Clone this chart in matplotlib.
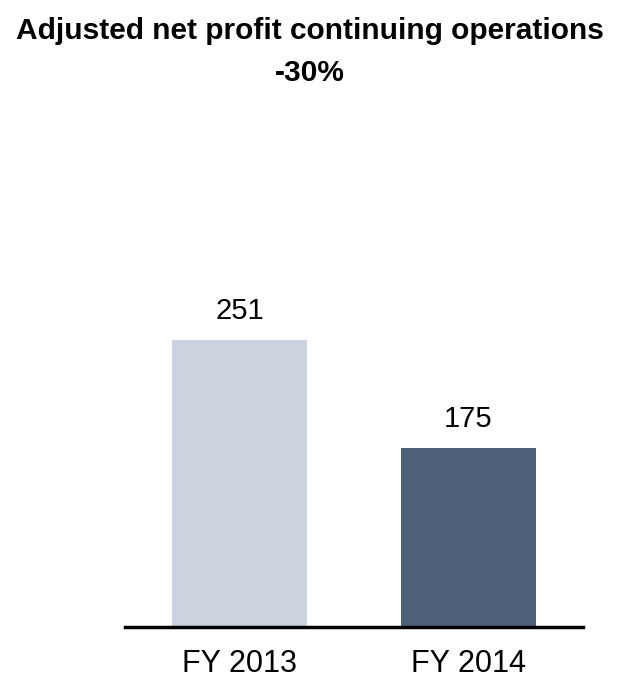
import matplotlib
matplotlib.use("Agg")
import matplotlib.pyplot as plt

categories = ["FY 2013", "FY 2014"]
values = [251, 175]
labels = ["251", "175"]
colors = ["#CBD4DE", "#4D6279"]
title_line1 = "Adjusted net profit continuing operations"
title_line2 = "-30%"

plt.rcParams['font.family'] = ['Liberation Sans', 'DejaVu Sans']

fig = plt.figure(figsize=(6.19, 6.78), dpi=100)
ax = fig.add_axes([0.2019, 0.0752, 0.7399, 0.7331])
x = list(range(len(categories)))
bars = ax.bar(x, values, width=0.59, color=colors, zorder=2)
ax.set_xlim(-0.5, 1.5)
ax.set_ylim(49, 398.7)

for xi, v, lab in zip(x, values, labels):
    ax.annotate(lab, (xi, v), xytext=(0, 20.5), textcoords="offset points",
                ha="center", va="center", fontsize=21, color="black")

for s in ["top", "right", "left"]:
    ax.spines[s].set_visible(False)
ax.spines["bottom"].set_linewidth(2.5)
ax.spines["bottom"].set_color("black")
ax.set_yticks([])
ax.set_xticks(x)
ax.set_xticklabels(categories, fontsize=22)
ax.tick_params(axis="x", length=0, pad=16)

fig.text(0.5, 1 - 31/678, title_line1, ha="center", va="center",
         fontsize=21.5, fontweight="bold")
fig.text(0.5, 1 - 73/678, title_line2, ha="center", va="center",
         fontsize=21.5, fontweight="bold")

fig.savefig("out.png", dpi=100)
